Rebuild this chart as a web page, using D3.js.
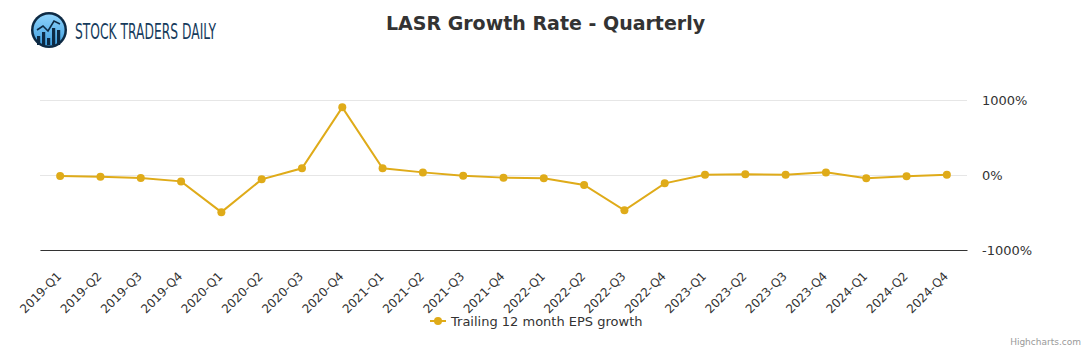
<!DOCTYPE html>
<html>
<head>
<meta charset="utf-8">
<script src="https://cdn.jsdelivr.net/npm/d3@7"></script>
<style>
  body { margin: 0; background: #fff; }
  text { font-family: "DejaVu Sans", sans-serif; }
</style>
</head>
<body>
<div id="line-chart"></div>
<script>
// quarters shown on the x-axis (2024-Q3 is absent in the source)
const quarters = ["2019-Q1", "2019-Q2", "2019-Q3", "2019-Q4", "2020-Q1", "2020-Q2", "2020-Q3", "2020-Q4",
  "2021-Q1", "2021-Q2", "2021-Q3", "2021-Q4", "2022-Q1", "2022-Q2", "2022-Q3", "2022-Q4",
  "2023-Q1", "2023-Q2", "2023-Q3", "2023-Q4", "2024-Q1", "2024-Q2", "2024-Q4"];

// trailing 12 month EPS growth, in percent
const epsGrowth = [-13, -22, -40, -85, -495, -58, 89, 902,
  89, 35, -9, -35, -44, -133, -471, -111,
  2, 9, 4, 35, -44, -18, 2];

const yTicks = [-1000, 0, 1000];
const seriesName = "Trailing 12 month EPS growth";
const titleText = "LASR Growth Rate - Quarterly";

function draw() {
  const W = 1091, H = 350;
  const margin = {top: 100, right: 124, bottom: 100, left: 40};
  const width = W - margin.left - margin.right;
  const height = H - margin.top - margin.bottom;
  const lineColor = "#dfab19";

  const svg = d3.select("#line-chart")
    .append("svg")
    .attr("width", W)
    .attr("height", H)
    .attr("viewBox", [0, 0, W, H]);

  // title
  svg.append("text")
    .attr("x", W / 2)
    .attr("y", 30)
    .attr("text-anchor", "middle")
    .attr("font-size", 19)
    .attr("font-weight", "bold")
    .attr("fill", "#333333")
    .text(titleText);

  // logo
  const logo = svg.append("g").attr("transform", "translate(49, 30)");
  const grad = svg.append("defs").append("linearGradient")
    .attr("id", "logo-grad").attr("x1", 0).attr("y1", 0).attr("x2", 0).attr("y2", 1);
  grad.append("stop").attr("offset", "0%").attr("stop-color", "#8fd3fb");
  grad.append("stop").attr("offset", "100%").attr("stop-color", "#3f9fe0");
  logo.append("circle").attr("r", 18).attr("fill", "#0d2a44");
  logo.append("circle").attr("r", 15.5).attr("fill", "url(#logo-grad)");
  const bars = [[-12, 6], [-7, 2], [-2, 8], [3, -2], [8, 0]];
  logo.selectAll("rect.b").data(bars).join("rect")
    .attr("x", d => d[0]).attr("y", d => d[1])
    .attr("width", 3.2).attr("height", d => 15 - d[1])
    .attr("fill", "#0d2a44");
  logo.append("polyline")
    .attr("points", "-12,0 -6,-4 -1,1 5,-9 11,-6")
    .attr("fill", "none").attr("stroke", "#0d2a44").attr("stroke-width", 1.6);
  svg.append("text")
    .attr("x", 75)
    .attr("y", 39)
    .attr("font-family", "'DejaVu Sans Condensed', 'DejaVu Sans', sans-serif")
    .attr("font-size", 21)
    .attr("textLength", 141)
    .attr("lengthAdjust", "spacingAndGlyphs")
    .attr("fill", "#163b5c")
    .text("STOCK TRADERS DAILY");

  const chart = svg.append("g")
    .attr("transform", `translate(${margin.left}, ${margin.top})`);

  const xScale = d3.scaleBand()
    .domain(quarters)
    .range([0, width]);

  const yScale = d3.scaleLinear()
    .domain([-1000, 1000])
    .range([height, 0]);

  // gridlines
  chart.append("g")
    .call(d3.axisRight(yScale).tickValues(yTicks).tickSize(width).tickFormat(""))
    .call(g => g.select(".domain").remove())
    .call(g => g.selectAll("line").attr("stroke", "#e6e6e6"));

  // y-axis labels on the right
  const yAxis = chart.append("g")
    .attr("transform", `translate(${width}, 0)`)
    .call(d3.axisRight(yScale).tickValues(yTicks).tickSize(0).tickPadding(15).tickFormat(d => d + "%"));
  yAxis.select(".domain").remove();
  yAxis.selectAll("text")
    .attr("font-family", "DejaVu Sans, sans-serif")
    .attr("font-size", 13)
    .attr("fill", "#333333");

  // x-axis
  const xAxis = chart.append("g")
    .attr("transform", `translate(0, ${height})`)
    .call(d3.axisBottom(xScale).tickSize(0).tickSizeOuter(0).tickPadding(0));
  xAxis.select(".domain").attr("stroke", "#333333");
  xAxis.selectAll("text")
    .attr("font-family", "DejaVu Sans, sans-serif")
    .attr("font-size", 12)
    .attr("fill", "#333333")
    .attr("text-anchor", "end")
    .attr("dy", null)
    .attr("y", 0)
    .attr("transform", "translate(2, 27) rotate(-45)");

  // line and markers
  const line = d3.line()
    .x((d, i) => xScale(quarters[i]) + xScale.bandwidth() / 2)
    .y(d => yScale(d));

  chart.append("path")
    .datum(epsGrowth)
    .attr("fill", "none")
    .attr("stroke", lineColor)
    .attr("stroke-width", 2)
    .attr("d", line);

  chart.append("g")
    .selectAll("circle")
    .data(epsGrowth)
    .join("circle")
    .attr("cx", (d, i) => xScale(quarters[i]) + xScale.bandwidth() / 2)
    .attr("cy", d => yScale(d))
    .attr("r", 4)
    .attr("fill", lineColor);

  // legend
  const legend = svg.append("g").attr("transform", "translate(430, 321)");
  legend.append("line").attr("x1", 0).attr("x2", 16).attr("stroke", lineColor).attr("stroke-width", 2);
  legend.append("circle").attr("cx", 8).attr("r", 4).attr("fill", lineColor);
  legend.append("text")
    .attr("x", 21)
    .attr("y", 4.5)
    .attr("font-size", 13)
    .attr("fill", "#333333")
    .text(seriesName);

  // credits
  svg.append("text")
    .attr("x", 1081)
    .attr("y", 345)
    .attr("text-anchor", "end")
    .attr("font-size", 9)
    .attr("fill", "#999999")
    .text("Highcharts.com");
}

draw();
</script>
</body>
</html>
